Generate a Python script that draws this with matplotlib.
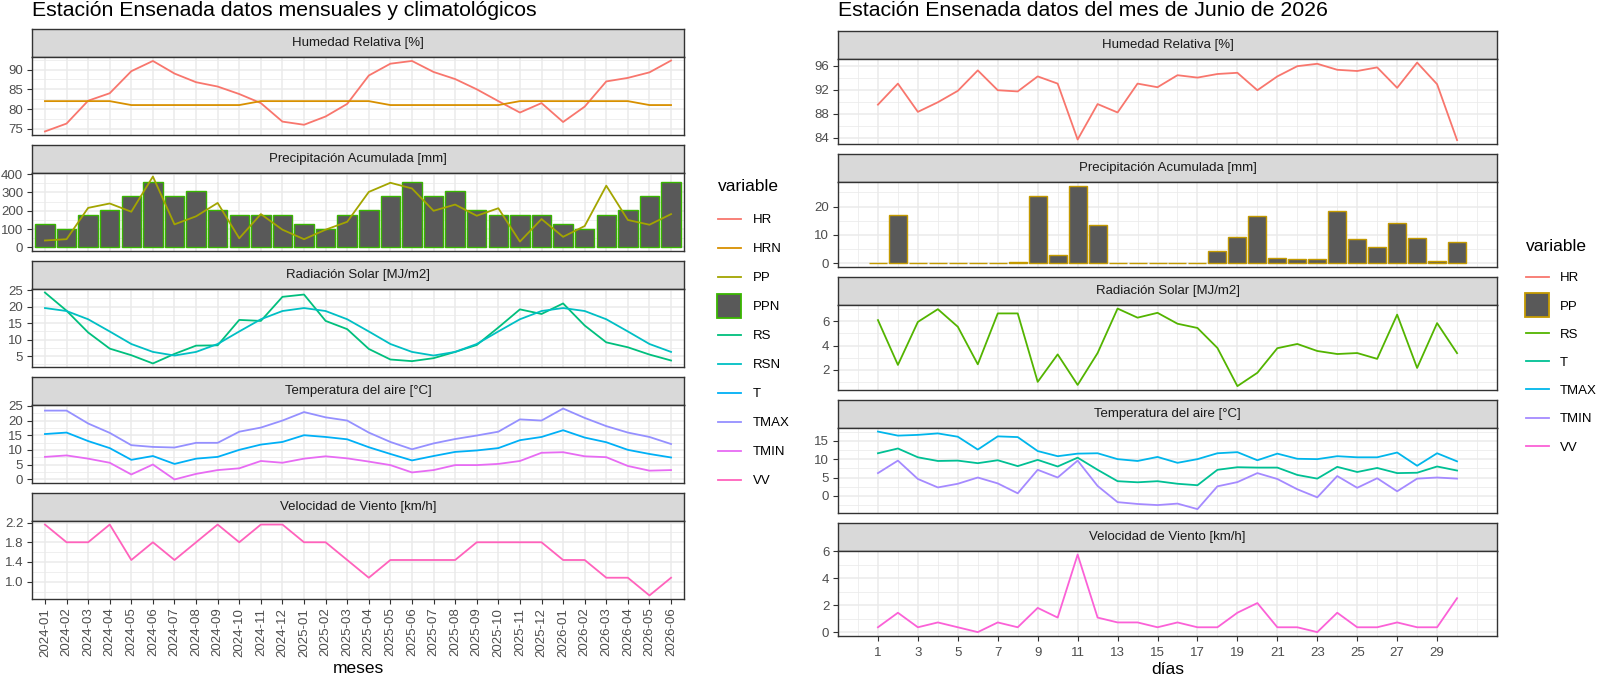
import matplotlib
matplotlib.use("Agg")
import matplotlib.pyplot as plt
from matplotlib.lines import Line2D
import numpy as np

plt.rcParams['font.family'] = ['Liberation Sans', 'DejaVu Sans']

# ---------------- datos mensuales (izquierda) ----------------
meses = ["2024-01", "2024-02", "2024-03", "2024-04", "2024-05", "2024-06",
         "2024-07", "2024-08", "2024-09", "2024-10", "2024-11", "2024-12",
         "2025-01", "2025-02", "2025-03", "2025-04", "2025-05", "2025-06",
         "2025-07", "2025-08", "2025-09", "2025-10", "2025-11", "2025-12",
         "2026-01", "2026-02", "2026-03", "2026-04", "2026-05", "2026-06"]

HR_m = [74.3, 76.3, 82.1, 84.0, 89.6, 92.2, 89.0, 86.8, 85.7, 83.8, 81.5, 76.8,
        76.0, 78.1, 81.3, 88.5, 91.5, 92.2, 89.4, 87.6, 85.0, 82.0, 79.1, 81.5,
        76.7, 80.6, 87.0, 87.9, 89.3, 92.3]
HRN_m = [82, 82, 82, 82, 81, 81, 81, 81, 81, 81, 82, 82,
         82, 82, 82, 82, 81, 81, 81, 81, 81, 81, 82, 82,
         82, 82, 82, 82, 81, 81]
PP_m = [38, 45, 216, 240, 195, 387, 126, 170, 243, 50, 182, 97,
        45, 97, 140, 303, 353, 322, 200, 234, 173, 214, 32, 155,
        58, 117, 337, 150, 124, 182]
PPN_m = [126, 100, 177, 202, 281, 357, 281, 306, 202, 177, 177, 177,
         126, 100, 177, 202, 281, 357, 281, 306, 202, 177, 177, 177,
         126, 100, 177, 202, 281, 357]
RS_m = [24.3, 18.8, 12.2, 7.3, 5.3, 2.8, 5.7, 8.2, 8.3, 16.0, 15.7, 23.0,
        23.7, 15.7, 13.2, 7.2, 4.0, 3.5, 4.4, 6.3, 8.4, 13.7, 19.2, 17.8,
        21.0, 14.3, 9.2, 7.7, 5.5, 3.7]
RSN_m = [19.6, 18.7, 16.2, 12.5, 8.7, 6.3, 5.2, 6.3, 8.7, 12.5, 16.2, 18.7,
         19.6, 18.7, 16.2, 12.5, 8.7, 6.3, 5.2, 6.3, 8.7, 12.5, 16.2, 18.7,
         19.6, 18.7, 16.2, 12.5, 8.7, 6.3]
T_m = [15.4, 15.9, 13.0, 10.6, 6.6, 7.9, 5.2, 7.0, 7.6, 10.0, 11.8, 12.7,
       15.0, 14.4, 13.6, 10.9, 8.6, 6.4, 7.9, 9.3, 9.8, 10.6, 13.3, 14.4,
       16.7, 14.2, 12.6, 10.0, 8.6, 7.4]
TMAX_m = [23.4, 23.4, 19.0, 15.8, 11.6, 11.0, 10.8, 12.4, 12.4, 16.2, 17.6, 20.0,
          22.9, 21.1, 20.0, 15.9, 12.7, 10.2, 12.2, 13.7, 14.9, 16.2, 20.4, 20.0,
          24.1, 20.9, 18.1, 15.9, 14.4, 12.0]
TMIN_m = [7.6, 8.1, 7.0, 5.6, 1.6, 5.0, -0.1, 1.8, 3.1, 3.7, 6.2, 5.6,
          7.0, 7.8, 7.1, 6.0, 4.8, 2.3, 3.1, 4.8, 4.8, 5.2, 6.2, 9.0,
          9.2, 7.8, 7.5, 4.5, 2.9, 3.1]
VV_m = [2.16, 1.8, 1.8, 2.16, 1.44, 1.8, 1.44, 1.8, 2.16, 1.8, 2.16, 2.16,
        1.8, 1.8, 1.44, 1.08, 1.44, 1.44, 1.44, 1.44, 1.8, 1.8, 1.8, 1.8,
        1.44, 1.44, 1.08, 1.08, 0.72, 1.08]

# ---------------- datos diarios junio 2026 (derecha) ----------------
dias = list(range(1, 31))
HR_d = [89.5, 93.0, 88.3, 89.9, 91.8, 95.2, 91.9, 91.7, 94.2, 93.0,
        83.7, 89.6, 88.2, 93.0, 92.4, 94.4, 94.0, 94.6, 94.8, 91.9,
        94.2, 95.9, 96.3, 95.3, 95.1, 95.7, 92.3, 96.5, 92.9, 83.6]
PP_d = [0, 16.9, 0, 0.2, 0, 0, 0, 0.3, 23.7, 2.9,
        27.4, 13.5, 0, 0, 0, 0, 0.2, 4.3, 9.1, 16.6,
        1.7, 1.4, 1.4, 18.5, 8.4, 5.6, 14.2, 8.8, 0.8, 7.3]
RS_d = [6.1, 2.4, 5.95, 7.0, 5.55, 2.45, 6.65, 6.65, 1.0, 3.27,
        0.75, 3.38, 7.05, 6.3, 6.7, 5.8, 5.45, 3.8, 0.65, 1.75,
        3.78, 4.13, 3.55, 3.3, 3.38, 2.9, 6.55, 2.15, 5.85, 3.37]
T_d = [11.6, 12.9, 10.5, 9.5, 9.6, 8.9, 9.7, 8.1, 9.8, 8.0,
       10.4, 7.1, 4.0, 3.7, 4.0, 3.3, 2.9, 7.1, 7.8, 7.7,
       7.7, 5.7, 4.7, 7.9, 6.5, 7.6, 6.2, 6.3, 8.0, 6.9]
TMAX_d = [17.5, 16.4, 16.6, 17.0, 16.1, 12.6, 16.2, 16.0, 12.2, 10.8,
          11.5, 11.6, 10.0, 9.5, 10.6, 9.0, 10.0, 11.6, 11.9, 9.7,
          11.5, 10.1, 10.0, 10.8, 10.5, 10.5, 11.8, 8.2, 11.6, 9.4]
TMIN_d = [6.2, 9.6, 4.6, 2.3, 3.3, 5.0, 3.4, 0.7, 7.1, 5.0,
          9.6, 2.7, -1.7, -2.2, -2.5, -2.1, -3.6, 2.6, 3.75, 6.2,
          4.6, 1.8, -0.4, 5.4, 2.2, 4.8, 1.25, 4.7, 5.0, 4.7]
VV_d = [0.36, 1.44, 0.36, 0.72, 0.36, 0.0, 0.72, 0.36, 1.8, 1.08,
        5.76, 1.08, 0.72, 0.72, 0.36, 0.72, 0.36, 0.36, 1.44, 2.16,
        0.36, 0.36, 0.0, 1.44, 0.36, 0.36, 0.72, 0.36, 0.36, 2.52]

paneles = ["Humedad Relativa [%]", "Precipitación Acumulada [mm]",
           "Radiación Solar [MJ/m2]", "Temperatura del aire [°C]",
           "Velocidad de Viento [km/h]"]

# colores ggplot (hue) para 10 y 7 variables
col_izq = {"HR": "#F8766D", "HRN": "#D89000", "PP": "#A3A500", "PPN": "#39B600",
           "RS": "#00BF7D", "RSN": "#00BFC4", "T": "#00B0F6", "TMAX": "#9590FF",
           "TMIN": "#E76BF3", "VV": "#FF62BC"}
col_der = {"HR": "#F8766D", "PP": "#C49A00", "RS": "#53B400", "T": "#00C094",
           "TMAX": "#00B6EB", "TMIN": "#A58AFF", "VV": "#FB61D7"}

W, H = 1600, 676
fig = plt.figure(figsize=(16, 6.76), dpi=100)

GRID = "#EBEBEB"
DARK = "#333333"
BAR_FILL = "#595959"


def px_axes(x0, top, x1, h):
    return fig.add_axes([x0 / W, 1 - (top + h) / H, (x1 - x0) / W, h / H])


def strip(x0, top, x1, label):
    s = px_axes(x0, top, x1, 28)
    s.set_facecolor("#D9D9D9")
    s.set_xticks([])
    s.set_yticks([])
    for sp in s.spines.values():
        sp.set_color(DARK)
        sp.set_linewidth(1.0)
    s.text(0.5, 0.5, label, ha="center", va="center", fontsize=9.5,
           color="#1A1A1A", transform=s.transAxes)


def style(ax, yticks, lo, hi, fmt=None):
    pad = (hi - lo) * 0.05
    ax.set_ylim(lo - pad, hi + pad)
    ax.set_yticks(yticks)
    step = yticks[1] - yticks[0]
    minors = [yticks[0] - step / 2] + [t + step / 2 for t in yticks]
    ax.set_yticks([m for m in minors if lo - pad < m < hi + pad], minor=True)
    if fmt:
        ax.set_yticklabels([fmt.format(t) for t in yticks])
    ax.grid(True, which="major", color=GRID, lw=1.1)
    ax.grid(True, which="minor", axis="y", color=GRID, lw=0.55)
    ax.set_axisbelow(True)
    for sp in ax.spines.values():
        sp.set_color(DARK)
        sp.set_linewidth(1.0)
    ax.tick_params(which="major", length=3.8, width=0.8, color=DARK,
                   labelsize=9.5, labelcolor="#4D4D4D", pad=2.5)
    ax.tick_params(which="minor", length=0)


LW = 1.3

# ---------------- lado izquierdo ----------------
xm = np.arange(1, len(meses) + 1)
LX0, LX1 = 32, 684
for i, lab in enumerate(paneles):
    top = 29 + 116 * i
    strip(LX0, top, LX1, lab)
    ax = px_axes(LX0, top + 28, LX1, 78)
    ax.set_xlim(0.4, len(meses) + 0.6)
    ax.set_xticks(xm)
    if i == 0:
        ax.plot(xm, HR_m, color=col_izq["HR"], lw=LW)
        ax.plot(xm, HRN_m, color=col_izq["HRN"], lw=LW)
        style(ax, [75, 80, 85, 90], min(HR_m + HRN_m), max(HR_m + HRN_m))
    elif i == 1:
        ax.bar(xm, PPN_m, width=0.9, color=BAR_FILL, edgecolor=col_izq["PPN"], lw=1.0)
        ax.plot(xm, PP_m, color=col_izq["PP"], lw=LW)
        style(ax, [0, 100, 200, 300, 400], 0, max(PP_m + PPN_m))
    elif i == 2:
        ax.plot(xm, RS_m, color=col_izq["RS"], lw=LW)
        ax.plot(xm, RSN_m, color=col_izq["RSN"], lw=LW)
        style(ax, [5, 10, 15, 20, 25], min(RS_m + RSN_m), max(RS_m + RSN_m))
    elif i == 3:
        ax.plot(xm, T_m, color=col_izq["T"], lw=LW)
        ax.plot(xm, TMAX_m, color=col_izq["TMAX"], lw=LW)
        ax.plot(xm, TMIN_m, color=col_izq["TMIN"], lw=LW)
        allt = T_m + TMAX_m + TMIN_m
        style(ax, [0, 5, 10, 15, 20, 25], min(allt), max(allt))
    else:
        ax.plot(xm, VV_m, color=col_izq["VV"], lw=LW)
        style(ax, [1.0, 1.4, 1.8, 2.2], min(VV_m), max(VV_m), "{:.1f}")
    if i < 4:
        ax.tick_params(axis="x", length=0, labelbottom=False)
    else:
        ax.set_xticklabels(meses, rotation=90)
        ax.set_xlabel("meses", fontsize=12.5, labelpad=3)

fig.text(LX0 / W, 1 - 1 / H, "Estación Ensenada datos mensuales y climatológicos",
         fontsize=15.3, va="top", ha="left")

# ---------------- lado derecho ----------------
RX0, RX1 = 838, 1497
xd = np.array(dias)
for i, lab in enumerate(paneles):
    top = 30.7 + 123 * i
    strip(RX0, top, RX1, lab)
    ax = px_axes(RX0, top + 28, RX1, 85.3)
    ax.set_xlim(-1, 32)
    ax.set_xticks(list(range(1, 31, 2)))
    ax.set_xticks(list(range(0, 32, 2)) + [31], minor=True)
    if i == 0:
        ax.plot(xd, HR_d, color=col_der["HR"], lw=LW)
        style(ax, [84, 88, 92, 96], min(HR_d), max(HR_d))
    elif i == 1:
        ax.bar(xd, PP_d, width=0.9, color=BAR_FILL, edgecolor=col_der["PP"], lw=1.0)
        style(ax, [0, 10, 20], 0, max(PP_d))
    elif i == 2:
        ax.plot(xd, RS_d, color=col_der["RS"], lw=LW)
        style(ax, [2, 4, 6], min(RS_d), max(RS_d))
    elif i == 3:
        ax.plot(xd, T_d, color=col_der["T"], lw=LW)
        ax.plot(xd, TMAX_d, color=col_der["TMAX"], lw=LW)
        ax.plot(xd, TMIN_d, color=col_der["TMIN"], lw=LW)
        allt = T_d + TMAX_d + TMIN_d
        style(ax, [0, 5, 10, 15], min(allt), max(allt))
    else:
        ax.plot(xd, VV_d, color=col_der["VV"], lw=LW)
        style(ax, [0, 2, 4, 6], min(VV_d), max(VV_d))
    ax.grid(True, which="minor", axis="x", color=GRID, lw=0.55)
    if i < 4:
        ax.tick_params(axis="x", length=0, labelbottom=False)
    else:
        ax.tick_params(axis="x", pad=4)
        ax.set_xlabel("días", fontsize=12.5, labelpad=2.5)

fig.text(RX0 / W, 1 - 1 / H, "Estación Ensenada datos del mes de Junio de 2026",
         fontsize=15.3, va="top", ha="left")


# ---------------- leyendas ----------------
def handles(cols, barvar):
    hs = []
    for k, c in cols.items():
        if k == barvar:
            hs.append(Line2D([], [], ls="none", marker="s", markersize=17,
                             markerfacecolor=BAR_FILL, markeredgecolor=c,
                             markeredgewidth=1.3))
        else:
            hs.append(Line2D([], [], color=c, lw=LW))
    return hs


leg_kw = dict(loc="upper left", frameon=False, fontsize=9.5, title_fontsize=12.5,
              handlelength=1.75, alignment="left")
leg1 = fig.legend(handles(col_izq, "PPN"), list(col_izq.keys()), title="variable",
                  bbox_to_anchor=(706 / W, 1 - 167 / H), labelspacing=1.27,
                  handletextpad=0.9, **leg_kw)
leg1._legend_box.sep = 14.5
leg2 = fig.legend(handles(col_der, "PP"), list(col_der.keys()), title="variable",
                  bbox_to_anchor=(1514 / W, 1 - 227 / H), labelspacing=1.21,
                  handletextpad=0.8, **leg_kw)
leg2._legend_box.sep = 13.1

fig.savefig("out.png", dpi=100)
